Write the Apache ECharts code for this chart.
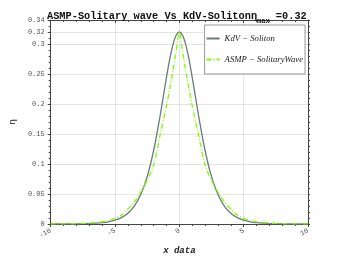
<!DOCTYPE html>
<html><head><meta charset="utf-8">
<script src="https://cdn.jsdelivr.net/npm/echarts@6/dist/echarts.min.js"></script>
<style>html,body{margin:0;padding:0;background:#fff}#c{width:341px;height:260px}</style>
</head><body><div id="c"></div>
<script>
const xs = [-10,-9,-8,-7,-6.5,-6,-5.5,-5,-4.5,-4,-3.5,-3,-2.5,-2,-1.5,-1,-0.75,-0.5,-0.25,0,0.25,0.5,0.75,1,1.5,2,2.5,3,3.5,4,4.5,5,5.5,6,6.5,7,8,9,10];
const kdvSoliton = [0.00003,0.00009,0.00026,0.00076,0.0013,0.0022,0.0037,0.0063,0.0106,0.0179,0.0299,0.0491,0.0789,0.1225,0.1799,0.2445,0.2744,0.2986,0.3145,0.32,0.3145,0.2986,0.2744,0.2445,0.1799,0.1225,0.0789,0.0491,0.0299,0.0179,0.0106,0.0063,0.0037,0.0022,0.0013,0.00076,0.00026,0.00009,0.00003];
const asmpWave = [0.0001,0.00025,0.0006,0.0015,0.0024,0.0037,0.006,0.0095,0.0145,0.025,0.037,0.053,0.073,0.098,0.148,0.197,0.225,0.255,0.288,0.32,0.288,0.255,0.225,0.197,0.148,0.098,0.073,0.053,0.037,0.025,0.0145,0.0095,0.006,0.0037,0.0024,0.0015,0.0006,0.00025,0.0001];
const yTickLabels = [0,0.05,0.1,0.15,0.2,0.25,0.3,0.32,0.34];
const seriesNames = ['KdV \u2212 Soliton','ASMP \u2212 SolitaryWave'];

const mono = 'Liberation Mono';
const axisColor = '#444';
const chart = echarts.init(document.getElementById('c'), null, {renderer:'canvas'});
chart.setOption({
  animation:false,
  backgroundColor:'#fff',
  title:{
    text:'ASMP-Solitary wave Vs KdV-Soliton{e|\u03b7}{s|max} =0.32',
    left:42, top:3,
    textStyle:{fontFamily:mono, fontWeight:'bold', fontSize:10.3, color:'#111',
      rich:{e:{fontFamily:mono, fontWeight:'bold', fontSize:10.3, color:'#111'},
            s:{fontFamily:mono, fontWeight:'bold', fontSize:7, color:'#111', padding:[10,0,0,0]}}}
  },
  grid:{left:44, right:33, top:20, bottom:31},
  legend:{
    orient:'vertical', right:36, top:25,
    backgroundColor:'#fff', borderColor:'#999', borderWidth:1,
    padding:[9,2,10,1], itemGap:12, itemWidth:13, itemHeight:8,
    itemStyle:{opacity:0},
    textStyle:{fontFamily:'Liberation Serif', fontStyle:'italic', fontSize:8.7, color:'#222'},
    data:seriesNames
  },
  xAxis:[
    {type:'value', min:-10, max:10, interval:5, position:'bottom',
     axisLine:{show:true, onZero:false, lineStyle:{color:axisColor}},
     axisTick:{show:true, length:3, lineStyle:{color:axisColor}},
     minorTick:{show:true, splitNumber:5, length:2, lineStyle:{color:axisColor}},
     splitLine:{show:true, lineStyle:{color:'#e4e4e4'}},
     axisLabel:{rotate:30, fontFamily:mono, fontSize:7, color:'#555', margin:6},
     name:'x data', nameLocation:'middle', nameGap:22,
     nameTextStyle:{fontFamily:mono, fontStyle:'italic', fontWeight:'bold', fontSize:9, color:'#222'}},
    {type:'value', min:-10, max:10, interval:5, position:'top',
     axisLine:{show:true, onZero:false, lineStyle:{color:axisColor}},
     axisTick:{show:true, inside:true, length:3, lineStyle:{color:axisColor}},
     minorTick:{show:true, splitNumber:5, length:2, lineStyle:{color:axisColor}},
     splitLine:{show:false}, axisLabel:{show:false}}
  ],
  yAxis:[
    {type:'value', min:0, max:0.34, position:'left',
     axisLine:{show:true, onZero:false, lineStyle:{color:axisColor}},
     axisTick:{show:true, length:3, customValues:yTickLabels, lineStyle:{color:axisColor}},
     axisLabel:{customValues:yTickLabels, fontFamily:mono, fontSize:7, color:'#555', margin:6},
     splitLine:{show:true, lineStyle:{color:'#e4e4e4'}},
     name:'\u03b7', nameLocation:'middle', nameGap:22, nameRotate:90,
     nameTextStyle:{fontFamily:'DejaVu Sans', fontSize:9, color:'#222'}},
    {type:'value', min:0, max:0.34, interval:0.01, position:'left',
     axisLine:{show:false, onZero:false}, axisTick:{show:true, length:2, lineStyle:{color:axisColor}},
     axisLabel:{show:false}, splitLine:{show:false}},
    {type:'value', min:0, max:0.34, interval:0.01, position:'right',
     axisLine:{show:true, onZero:false, lineStyle:{color:axisColor}},
     axisTick:{show:true, length:2, lineStyle:{color:axisColor}},
     axisLabel:{show:false}, splitLine:{show:false}}
  ],
  series:[
    {name:seriesNames[0], type:'line', xAxisIndex:0, yAxisIndex:0, smooth:0.3, symbol:'none',
     lineStyle:{color:'#6c7a7c', width:1.3}, itemStyle:{color:'#6c7a7c'},
     data:xs.map((x,i)=>[x,kdvSoliton[i]])},
    {name:seriesNames[1], type:'line', xAxisIndex:0, yAxisIndex:0, smooth:0.3, symbol:'none',
     lineStyle:{color:'#7cfc00', width:1.3, type:[5,2,1,2]}, itemStyle:{color:'#7cfc00'},
     data:xs.map((x,i)=>[x,asmpWave[i]])}
  ]
});
</script></body></html>
